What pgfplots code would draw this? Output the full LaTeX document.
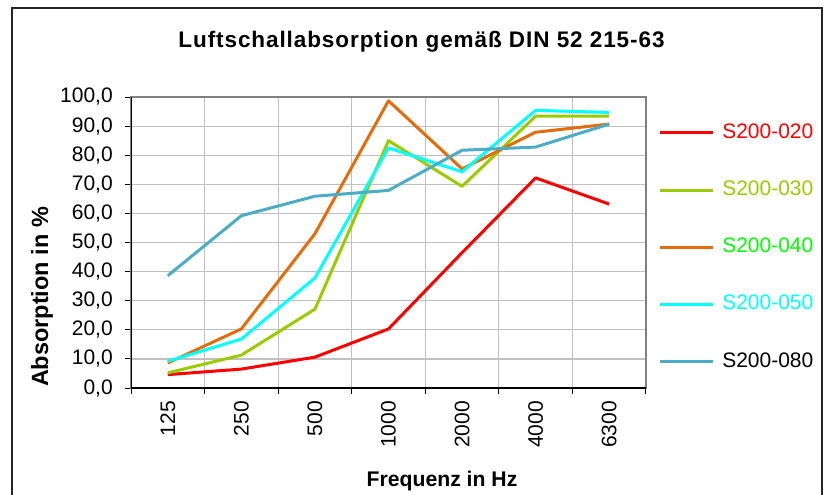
\documentclass[border=0pt]{standalone}
\usepackage{fontspec}
\setmainfont{Liberation Sans}
\usepackage{pgfplots}
\pgfplotsset{compat=1.18}
\definecolor{c20}{HTML}{FF0000}
\definecolor{c30}{HTML}{99CC00}
\definecolor{c40}{HTML}{E46C0A}
\definecolor{c50}{HTML}{00FFFF}
\definecolor{c80}{HTML}{4BACC6}
\definecolor{lg40}{HTML}{00FF00}
\definecolor{gridc}{HTML}{C0C0C0}
\definecolor{framec}{HTML}{808080}
\begin{document}
\begin{tikzpicture}
\begin{scope}[x=0.75pt,y=-0.75pt]
\useasboundingbox (0,0) rectangle (827,494);
\draw[line width=1.5pt, black!85] (11.5,500) -- (11.5,8) -- (822,8) -- (822,500);
\node[font=\bfseries\fontsize{16.9pt}{19pt}\selectfont\addfontfeatures{LetterSpace=4}, anchor=base, inner sep=0pt] at (421.5,47) {Luftschallabsorption gemäß DIN 52 215-63};
\node[font=\bfseries\fontsize{17.6pt}{20pt}\selectfont, rotate=90, anchor=base, inner sep=0pt] at (48,297) {Absorption in \%};
\node[font=\bfseries\fontsize{15.9pt}{18pt}\selectfont, anchor=base, inner sep=0pt] at (442,486) {Frequenz in Hz};
\end{scope}
\begin{axis}[
  at={(98.25pt,-291pt)}, anchor=south west,
  width=386.25pt, height=218.25pt, scale only axis,
  xmin=-0.5, xmax=6.5, ymin=0, ymax=100,
  xtick={0,...,6}, xticklabels={125,250,500,1000,2000,4000,6300},
  minor xtick={-0.5,0.5,...,6.5},
  major x tick style={draw=none},
  xminorgrids, ymajorgrids,
  ytick={0,10,...,100},
  xtick pos=lower, ytick pos=left,
  tick align=outside,
  major tick length=4.5pt, minor tick length=4.5pt,
  tick style={black, line width=0.75pt},
  grid style={gridc, line width=0.9pt},
  minor grid style={gridc, line width=0.9pt},
  axis line style={framec, line width=0.9pt},
  tick label style={font=\fontsize{15.75pt}{18pt}\selectfont},
  xticklabel style={rotate=90, anchor=east, inner sep=0pt, xshift=-5.25pt},
  yticklabel style={anchor=east, inner sep=0pt, xshift=-9pt},
  yticklabel style={/pgf/number format/.cd, fixed, fixed zerofill, precision=1, use comma, assume math mode=true},
  legend style={at={(1.0233,0.9134)}, anchor=north west, draw=none, fill=none, inner sep=0pt,
    row sep=27.2pt, column sep=6pt, font=\fontsize{15.75pt}{18pt}\selectfont,
    nodes={inner sep=0pt, text height=11.8pt, text depth=3.9pt}},
  legend cell align=left,
  legend image code/.code={\draw[#1, line width=2.25pt] (0pt,0pt) -- (39.75pt,0pt);},
  every axis plot/.append style={line width=2.25pt, line join=round, mark=none},
]
\addplot[c20] coordinates {(0,4.6) (1,6.5) (2,10.6) (3,20.3) (4,46.5) (5,72.2) (6,63.2)};
\addlegendentry{\textcolor{c20}{S200-020}}
\addplot[c30] coordinates {(0,5.2) (1,11.3) (2,27.1) (3,85.0) (4,69.3) (5,93.4) (6,93.4)};
\addlegendentry{\textcolor{c30}{S200-030}}
\addplot[c40] coordinates {(0,8.6) (1,20.3) (2,53.0) (3,98.7) (4,75.3) (5,87.9) (6,90.7)};
\addlegendentry{\textcolor{lg40}{S200-040}}
\addplot[c50] coordinates {(0,9.2) (1,16.8) (2,37.8) (3,82.5) (4,74.3) (5,95.4) (6,94.7)};
\addlegendentry{\textcolor{c50}{S200-050}}
\addplot[c80] coordinates {(0,38.6) (1,59.2) (2,65.9) (3,67.9) (4,81.7) (5,82.8) (6,90.7)};
\addlegendentry{\textcolor{black}{S200-080}}
\draw[black, line width=0.9pt] (rel axis cs:0,1) -- (rel axis cs:0,0) -- (rel axis cs:1,0);
\end{axis}
\end{tikzpicture}
\end{document}
